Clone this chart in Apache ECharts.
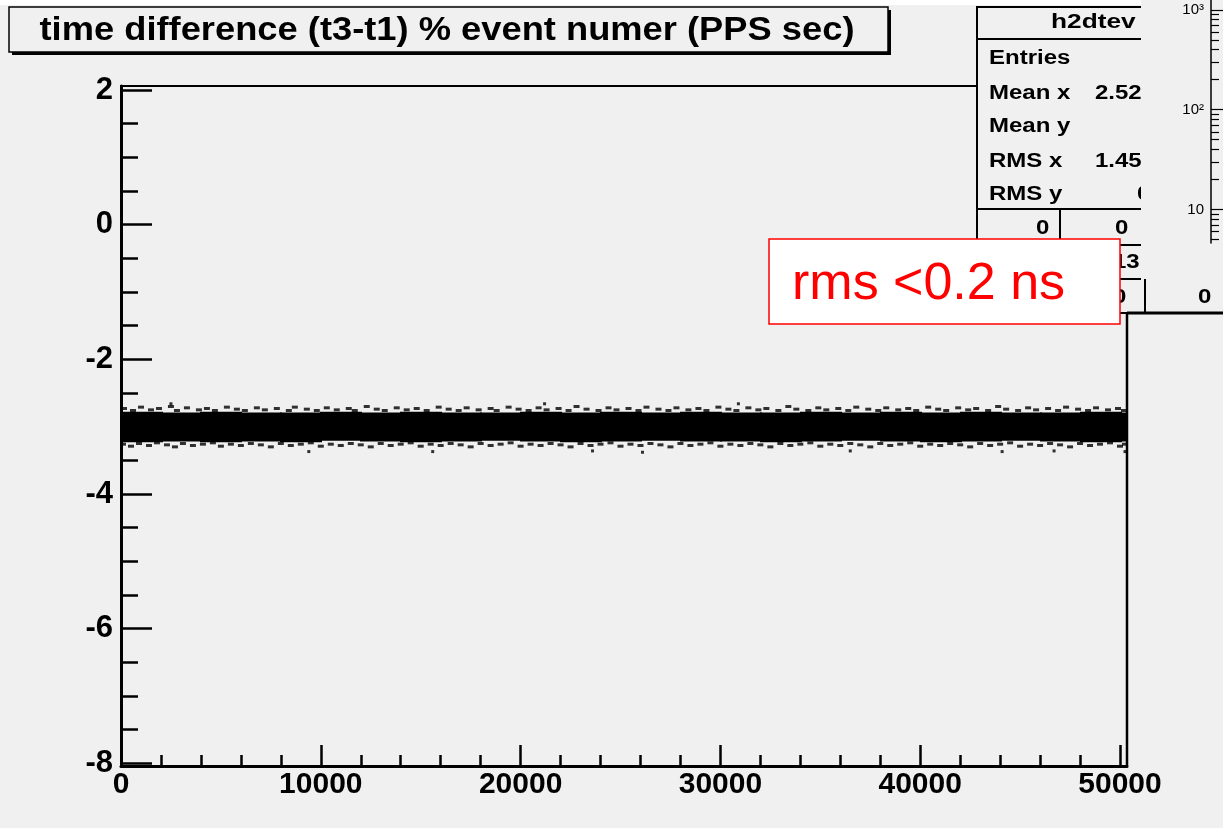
<!DOCTYPE html>
<html>
<head>
<meta charset="utf-8">
<title>time difference (t3-t1) % event numer (PPS sec)</title>
<script src="https://cdn.jsdelivr.net/npm/echarts@6/dist/echarts.min.js"></script>
<style>
    html, body { margin: 0; padding: 0; background: #f0f0f0; }
    #chart { width: 1223px; height: 828px; }
</style>
</head>
<body>
<div id="chart"></div>
<script>
// Axis ticks
const xMajor = [0, 10000, 20000, 30000, 40000, 50000];
const xMinor = [2000, 4000, 6000, 8000, 12000, 14000, 16000, 18000, 22000, 24000, 26000, 28000,
    32000, 34000, 36000, 38000, 42000, 44000, 46000, 48000];
const yMajor = [-8, -6, -4, -2, 0, 2];
const yMinor = [-7.5, -7, -6.5, -5.5, -5, -4.5, -3.5, -3, -2.5, -1.5, -1, -0.5, 0.5, 1, 1.5];
const logMajor = [10, 100, 1000];
const logMinor = [5, 6, 7, 8, 9, 20, 30, 40, 50, 60, 70, 80, 90, 200, 300, 400, 500, 600, 700, 800, 900];

// Dense core of the band (event bins, lower and upper edge)
const bandEdges = [0, 2000, 4000, 6000, 8000, 10000, 12000, 14000, 16000, 18000, 20000, 22000, 24000,
    26000, 28000, 30000, 32000, 34000, 36000, 38000, 40000, 42000, 44000, 46000, 48000, 50000, 50300];
const bandTop = [-2.78, -2.79, -2.78, -2.79, -2.79, -2.78, -2.79, -2.78, -2.79, -2.79, -2.78, -2.79, -2.78,
    -2.79, -2.78, -2.79, -2.79, -2.78, -2.79, -2.78, -2.79, -2.78, -2.79, -2.79, -2.78, -2.79];
const bandBottom = [-3.23, -3.22, -3.23, -3.22, -3.23, -3.21, -3.22, -3.23, -3.22, -3.21, -3.22, -3.23, -3.22,
    -3.21, -3.22, -3.22, -3.23, -3.22, -3.21, -3.22, -3.23, -3.22, -3.21, -3.22, -3.23, -3.22];

// Sparse events above / below the core
const topDots = [
    [150, -2.73], [600, -2.76], [1000, -2.71], [1500, -2.75], [1900, -2.73], [2500, -2.70], [2800, -2.76],
    [3300, -2.72], [3900, -2.75], [4300, -2.73], [4700, -2.76], [5300, -2.71], [5800, -2.74], [6200, -2.76],
    [6800, -2.72], [7200, -2.75], [7800, -2.73], [8400, -2.76], [8700, -2.71], [9300, -2.74], [9800, -2.76],
    [10300, -2.72], [10800, -2.75], [11400, -2.73], [11700, -2.76], [12300, -2.70], [12800, -2.74], [13200, -2.76],
    [13800, -2.72], [14300, -2.75], [14800, -2.73], [15300, -2.76], [15900, -2.71], [16400, -2.74], [16900, -2.76],
    [17300, -2.72], [17900, -2.75], [18500, -2.73], [18800, -2.76], [19400, -2.71], [19900, -2.74], [20400, -2.76],
    [20900, -2.72], [21300, -2.75], [21900, -2.73], [22400, -2.76], [22800, -2.70], [23300, -2.74], [23900, -2.76],
    [24400, -2.72], [24800, -2.75], [25400, -2.73], [25900, -2.76], [26300, -2.71], [26900, -2.74], [27400, -2.76],
    [27800, -2.72], [28400, -2.75], [28900, -2.73], [29300, -2.76], [29900, -2.71], [30400, -2.74], [30800, -2.76],
    [31400, -2.72], [31900, -2.75], [32300, -2.73], [32900, -2.76], [33400, -2.70], [33800, -2.74], [34400, -2.76],
    [34900, -2.72], [35300, -2.75], [35900, -2.73], [36400, -2.76], [36800, -2.71], [37400, -2.74], [37900, -2.76],
    [38300, -2.72], [38900, -2.75], [39400, -2.73], [39800, -2.76], [40400, -2.71], [40900, -2.74], [41300, -2.76],
    [41900, -2.72], [42400, -2.75], [42800, -2.73], [43400, -2.76], [43900, -2.70], [44300, -2.74], [44900, -2.76],
    [45400, -2.72], [45800, -2.75], [46400, -2.73], [46900, -2.76], [47300, -2.71], [47900, -2.74], [48400, -2.76],
    [48800, -2.72], [49400, -2.75], [49900, -2.73], [50200, -2.76]
];
const bottomDots = [
    [100, -3.26], [500, -3.29], [900, -3.25], [1400, -3.28], [1800, -3.24], [2300, -3.27], [2700, -3.30],
    [3100, -3.25], [3600, -3.28], [4100, -3.26], [4600, -3.24], [5000, -3.29], [5500, -3.26], [6000, -3.28],
    [6500, -3.25], [7000, -3.27], [7500, -3.30], [8000, -3.25], [8500, -3.28], [9000, -3.26], [9500, -3.24],
    [10000, -3.29], [10500, -3.26], [11000, -3.28], [11500, -3.25], [12000, -3.27], [12500, -3.30], [13000, -3.25],
    [13500, -3.28], [14000, -3.26], [14500, -3.24], [15000, -3.29], [15500, -3.26], [16000, -3.28], [16500, -3.25],
    [17000, -3.27], [17500, -3.30], [18000, -3.25], [18500, -3.28], [19000, -3.26], [19500, -3.24], [20000, -3.29],
    [20500, -3.26], [21000, -3.28], [21500, -3.25], [22000, -3.27], [22500, -3.30], [23000, -3.25], [23500, -3.28],
    [24000, -3.26], [24500, -3.24], [25000, -3.29], [25500, -3.26], [26000, -3.28], [26500, -3.25], [27000, -3.27],
    [27500, -3.30], [28000, -3.25], [28500, -3.28], [29000, -3.26], [29500, -3.24], [30000, -3.29], [30500, -3.26],
    [31000, -3.28], [31500, -3.25], [32000, -3.27], [32500, -3.30], [33000, -3.25], [33500, -3.28], [34000, -3.26],
    [34500, -3.24], [35000, -3.29], [35500, -3.26], [36000, -3.28], [36500, -3.25], [37000, -3.27], [37500, -3.30],
    [38000, -3.25], [38500, -3.28], [39000, -3.26], [39500, -3.24], [40000, -3.29], [40500, -3.26], [41000, -3.28],
    [41500, -3.25], [42000, -3.27], [42500, -3.30], [43000, -3.25], [43500, -3.28], [44000, -3.26], [44500, -3.24],
    [45000, -3.29], [45500, -3.26], [46000, -3.28], [46500, -3.25], [47000, -3.27], [47500, -3.30], [48000, -3.25],
    [48500, -3.28], [49000, -3.26], [49500, -3.24], [50000, -3.29], [50250, -3.26]
];
const outlierDots = [
    [2500, -2.66], [9400, -3.37], [15600, -3.37], [21200, -2.66], [23600, -3.36], [26100, -3.38],
    [30900, -2.66], [36500, -3.36], [44100, -3.37], [46700, -3.36], [50250, -3.37]
];

const FONT = '"Liberation Sans", Arial, Helvetica, sans-serif';

const bandData = bandTop.map((t, i) => [bandEdges[i], bandEdges[i + 1], bandBottom[i], t]);

const chart = echarts.init(document.getElementById('chart'));

function logLabel(v) {
    if (v === 10) return '10';
    if (v === 100) return '10²';
    if (v === 1000) return '10³';
    return '';
}

// stats box text (the screenshot is stretched sideways)
function statText(x, y, text) {
    return {
        type: 'text', z: 102, x: x, y: y, scaleX: 1.2,
        style: { text: text, fill: '#000', font: 'bold 20px ' + FONT, verticalAlign: 'middle' }
    };
}

chart.setOption({
    backgroundColor: '#f0f0f0',
    animation: false,
    grid: [
        { left: 121, top: 86, right: 96, bottom: 62, show: true, borderColor: '#000', borderWidth: 2, backgroundColor: 'transparent' },
        { left: 1211, top: 0, width: 40, height: 243, show: false }
    ],
    xAxis: [
        {
            gridIndex: 0, type: 'value', min: 0, max: 50350, position: 'bottom',
            axisLine: { show: true, onZero: false, lineStyle: { color: '#000', width: 3 } },
            axisTick: { show: true, inside: true, length: 21, customValues: xMajor, lineStyle: { color: '#000', width: 2.5 } },
            axisLabel: { customValues: xMajor, formatter: v => String(v), color: '#000', fontFamily: FONT, fontWeight: 'bold', fontSize: 30, margin: 4 },
            splitLine: { show: false }
        },
        {
            gridIndex: 0, type: 'value', min: 0, max: 50350, position: 'bottom', offset: 0,
            axisLine: { show: false, onZero: false },
            axisTick: { show: true, inside: true, length: 11, customValues: xMinor, lineStyle: { color: '#000', width: 2.5 } },
            axisLabel: { show: false },
            splitLine: { show: false }
        },
        {
            gridIndex: 1, type: 'value', min: 0, max: 1, show: false
        }
    ],
    yAxis: [
        {
            gridIndex: 0, type: 'value', min: -8.04, max: 2.06, position: 'left',
            axisLine: { show: true, onZero: false, lineStyle: { color: '#000', width: 3 } },
            axisTick: { show: true, inside: true, length: 31, customValues: yMajor, lineStyle: { color: '#000', width: 2.5 } },
            axisLabel: { customValues: yMajor, color: '#000', fontFamily: FONT, fontWeight: 'bold', fontSize: 31, margin: 8 },
            splitLine: { show: false }
        },
        {
            gridIndex: 0, type: 'value', min: -8.04, max: 2.06, position: 'left', offset: 0,
            axisLine: { show: false, onZero: false },
            axisTick: { show: true, inside: true, length: 17, customValues: yMinor, lineStyle: { color: '#000', width: 2.5 } },
            axisLabel: { show: false },
            splitLine: { show: false }
        },
        {
            gridIndex: 1, type: 'log', min: 4.6, max: 1262, position: 'left', offset: 0, z: 130,
            axisLine: { show: true, onZero: false, lineStyle: { color: '#000', width: 1.5 } },
            axisTick: { show: true, inside: true, length: 13, customValues: logMajor, lineStyle: { color: '#000', width: 1.2 } },
            axisLabel: { customValues: logMajor, formatter: logLabel, color: '#000', fontFamily: FONT, fontSize: 15, margin: 7 },
            splitLine: { show: false }
        },
        {
            gridIndex: 1, type: 'log', min: 4.6, max: 1262, position: 'left', offset: 0, z: 130,
            axisLine: { show: false, onZero: false },
            axisTick: { show: true, inside: true, length: 8, customValues: logMinor, lineStyle: { color: '#000', width: 1.2 } },
            axisLabel: { show: false },
            splitLine: { show: false }
        }
    ],
    series: [
        {
            type: 'custom',
            xAxisIndex: 0, yAxisIndex: 0,
            silent: true,
            encode: { x: [0, 1], y: [2, 3] },
            data: bandData,
            renderItem: function (params, api) {
                const p0 = api.coord([api.value(0), api.value(3)]);
                const p1 = api.coord([api.value(1), api.value(2)]);
                return {
                    type: 'rect',
                    shape: { x: Math.floor(p0[0]), y: p0[1], width: Math.ceil(p1[0] - p0[0]) + 2, height: p1[1] - p0[1] },
                    style: { fill: '#000', stroke: null }
                };
            }
        },
        {
            type: 'scatter', xAxisIndex: 0, yAxisIndex: 0, silent: true,
            symbol: 'rect', symbolSize: [6, 3], itemStyle: { color: '#000' },
            data: topDots
        },
        {
            type: 'scatter', xAxisIndex: 0, yAxisIndex: 0, silent: true,
            symbol: 'rect', symbolSize: [6, 3], itemStyle: { color: '#000' },
            data: bottomDots
        },
        {
            type: 'scatter', xAxisIndex: 0, yAxisIndex: 0, silent: true,
            symbol: 'rect', symbolSize: [3, 3], itemStyle: { color: '#000' },
            data: outlierDots
        }
    ],
    graphic: [
        // white strip at the top of the picture
        { type: 'rect', z: 90, shape: { x: 0, y: 0, width: 1141, height: 5 }, style: { fill: '#fff' } },
        // title box with shadow
        { type: 'rect', z: 100, shape: { x: 12, y: 10, width: 879, height: 45 }, style: { fill: '#000' } },
        { type: 'rect', z: 101, shape: { x: 9, y: 7, width: 879, height: 45 }, style: { fill: '#f0f0f0', stroke: '#000', lineWidth: 1.5 } },
        {
            type: 'text', z: 102, x: 447, y: 31, scaleX: 1.1,
            style: { text: 'time difference (t3-t1) % event numer (PPS sec)', fill: '#000', font: 'bold 33px ' + FONT, align: 'center', verticalAlign: 'middle' }
        },
        // stats box
        { type: 'rect', z: 100, shape: { x: 977, y: 7, width: 300, height: 306 }, style: { fill: '#f0f0f0', stroke: '#000', lineWidth: 2 } },
        { type: 'line', z: 101, shape: { x1: 977, y1: 39, x2: 1223, y2: 39 }, style: { stroke: '#000', lineWidth: 2 } },
        { type: 'line', z: 101, shape: { x1: 977, y1: 209, x2: 1223, y2: 209 }, style: { stroke: '#000', lineWidth: 2 } },
        { type: 'line', z: 101, shape: { x1: 977, y1: 245, x2: 1141, y2: 245 }, style: { stroke: '#000', lineWidth: 2 } },
        { type: 'line', z: 101, shape: { x1: 977, y1: 279, x2: 1141, y2: 279 }, style: { stroke: '#000', lineWidth: 2 } },
        { type: 'line', z: 101, shape: { x1: 1060, y1: 209, x2: 1060, y2: 245 }, style: { stroke: '#000', lineWidth: 2 } },
        {
            type: 'text', z: 102, x: 1051, y: 22, scaleX: 1.25,
            style: { text: 'h2dtev', fill: '#000', font: 'bold 21px ' + FONT, verticalAlign: 'middle' }
        },
        statText(989, 58, 'Entries'),
        statText(989, 93, 'Mean x'),
        statText(989, 126, 'Mean y'),
        statText(989, 161, 'RMS x'),
        statText(989, 194, 'RMS y'),
        statText(1095, 93, '2.524e+04'),
        statText(1095, 161, '1.454e+04'),
        statText(1137, 194, '0.1'),
        statText(1036, 228, '0'),
        statText(1115, 228, '0'),
        statText(1101, 262, '113'),
        statText(1113, 297, '0'),
        // neighbouring pad on the right
        { type: 'rect', z: 110, shape: { x: 1141, y: 0, width: 82, height: 281 }, style: { fill: '#f0f0f0' } },
        { type: 'line', z: 111, shape: { x1: 1145, y1: 279, x2: 1145, y2: 313 }, style: { stroke: '#000', lineWidth: 2 } },
        { type: 'text', z: 111, x: 1198, y: 297, scaleX: 1.2, style: { text: '0', fill: '#000', font: 'bold 20px ' + FONT, verticalAlign: 'middle' } },
        { type: 'line', z: 111, shape: { x1: 1127, y1: 313, x2: 1223, y2: 313 }, style: { stroke: '#000', lineWidth: 3 } },
        { type: 'line', z: 111, shape: { x1: 1127, y1: 312, x2: 1127, y2: 766 }, style: { stroke: '#000', lineWidth: 2.5 } },
        // red annotation
        { type: 'rect', z: 120, shape: { x: 769, y: 239, width: 351, height: 85 }, style: { fill: '#fff', stroke: '#ff0000', lineWidth: 1.5 } },
        { type: 'text', z: 121, x: 792, y: 285, style: { text: 'rms <0.2 ns', fill: '#ff0000', font: '52px ' + FONT, verticalAlign: 'middle' } }
    ]
});
</script>
</body>
</html>
